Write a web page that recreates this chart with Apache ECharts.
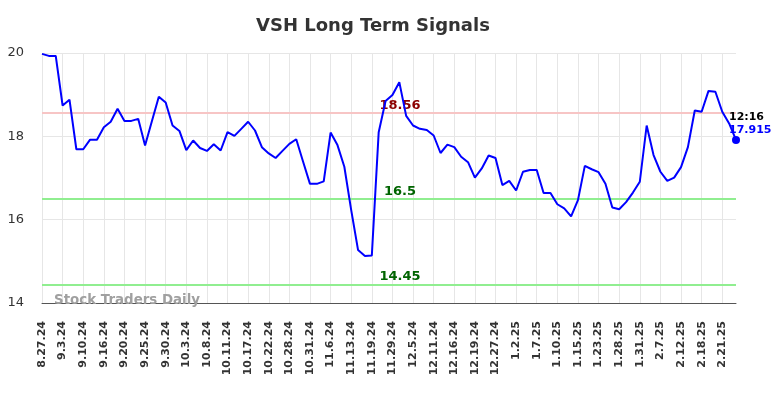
<!DOCTYPE html>
<html>
<head>
<meta charset="utf-8">
<script src="https://cdn.jsdelivr.net/npm/echarts@6/dist/echarts.min.js"></script>
<style>
  html, body { margin: 0; padding: 0; background: #fff; }
  #chart { width: 784px; height: 398px; }
</style>
</head>
<body>
<div id="chart"></div>
<script>
// tick labels, one every 3rd point
const tickLabels = ["8.27.24", "9.3.24", "9.10.24", "9.16.24", "9.20.24", "9.25.24", "9.30.24",
    "10.3.24", "10.8.24", "10.11.24", "10.17.24", "10.22.24", "10.28.24", "10.31.24", "11.6.24",
    "11.13.24", "11.19.24", "11.29.24", "12.5.24", "12.11.24", "12.16.24", "12.19.24", "12.27.24",
    "1.2.25", "1.7.25", "1.10.25", "1.15.25", "1.23.25", "1.28.25", "1.31.25", "2.7.25",
    "2.12.25", "2.18.25", "2.21.25"];

const prices = [19.98, 19.93, 19.93, 18.74, 18.88, 17.69, 17.69, 17.92, 17.92, 18.22,
    18.35, 18.66, 18.37, 18.37, 18.42, 17.78, 18.37, 18.95, 18.81, 18.26,
    18.13, 17.67, 17.90, 17.72, 17.65, 17.81, 17.66, 18.10, 18.01, 18.18,
    18.35, 18.14, 17.74, 17.59, 17.48, 17.65, 17.82, 17.93, 17.39, 16.86,
    16.86, 16.92, 18.09, 17.79, 17.27, 16.23, 15.27, 15.13, 15.14, 18.10,
    18.85, 18.99, 19.30, 18.49, 18.26, 18.18, 18.15, 18.02, 17.60, 17.80,
    17.74, 17.51, 17.38, 17.01, 17.23, 17.54, 17.48, 16.83, 16.93, 16.70,
    17.15, 17.19, 17.19, 16.64, 16.64, 16.37, 16.27, 16.08, 16.47, 17.29,
    17.21, 17.14, 16.86, 16.29, 16.25, 16.42, 16.65, 16.91, 18.26, 17.55,
    17.15, 16.93, 17.01, 17.26, 17.74, 18.62, 18.59, 19.09, 19.07, 18.59,
    18.31, 17.915];

const signalLevels = [18.56, 16.5, 14.45];
const signalColors = ["#f7c5c5", "#90ee90", "#90ee90"];
const signalLabelColors = ["#8b0000", "#006400", "#006400"];
const lastTime = "12:16";

// category per point, label only on every 3rd
let categories = prices.map((v, i) => (i % 3 === 0 && tickLabels[i / 3]) ? tickLabels[i / 3] : "");

let markLines = signalLevels.map((lv, i) => ({
    yAxis: lv,
    lineStyle: { color: signalColors[i], width: 2, type: "solid" },
    label: {
        show: true,
        position: "insideMiddleTop",
        formatter: String(lv),
        color: signalLabelColors[i],
        fontWeight: "bold",
        fontSize: 13,
        offset: [11, 4]
    }
}));

let lastIdx = prices.length - 1;

let option = {
    animation: false,
    textStyle: { fontFamily: "DejaVu Sans" },
    title: [{
        text: "VSH Long Term Signals",
        left: 251,
        top: 12,
        textStyle: { fontSize: 18, fontWeight: "bold", color: "#333", fontFamily: "DejaVu Sans" }
    }, {
        text: "Stock Traders Daily",
        left: 49,
        top: 289,
        textStyle: { fontSize: 13.4, fontWeight: "bold", color: "#a0a0a0", fontFamily: "DejaVu Sans" }
    }],
    grid: { left: 42, right: 48, top: 53, bottom: 95 },
    xAxis: {
        type: "category",
        data: categories,
        boundaryGap: false,
        axisLine: { lineStyle: { color: "#555", width: 1 } },
        axisTick: { show: false },
        axisLabel: {
            interval: 2,
            rotate: 90,
            margin: 18,
            fontSize: 11,
            fontWeight: "bold",
            color: "#333",
            fontFamily: "DejaVu Sans"
        },
        splitLine: { show: true, interval: 2, lineStyle: { color: "#e6e6e6" } }
    },
    yAxis: {
        type: "value",
        min: 14,
        max: 20,
        interval: 2,
        axisLine: { show: false },
        axisTick: { show: false },
        axisLabel: { fontSize: 13, color: "#333", margin: 18, fontFamily: "DejaVu Sans" },
        splitLine: { lineStyle: { color: "#e6e6e6" } }
    },
    series: [{
        type: "line",
        data: prices,
        symbol: "none",
        lineStyle: { color: "#0000ff", width: 2 },
        itemStyle: { color: "#0000ff" },
        z: 3,
        markLine: {
            symbol: "none",
            silent: true,
            z: 1,
            data: markLines
        },
        markPoint: {
            symbol: "circle",
            symbolSize: 8,
            itemStyle: { color: "#0000ff" },
            data: [{
                coord: [lastIdx, prices[lastIdx]],
                label: {
                    show: true,
                    position: [-3, -25],
                    align: "left",
                    formatter: "{t|" + lastTime + "}\n{v|" + prices[lastIdx] + "}",
                    rich: {
                        t: { color: "#000", fontWeight: "bold", fontSize: 11, lineHeight: 13, fontFamily: "DejaVu Sans" },
                        v: { color: "#0000ff", fontWeight: "bold", fontSize: 11, lineHeight: 13, fontFamily: "DejaVu Sans" }
                    }
                }
            }]
        }
    }]
};

let chart = echarts.init(document.getElementById("chart"));
chart.setOption(option);
</script>
</body>
</html>
